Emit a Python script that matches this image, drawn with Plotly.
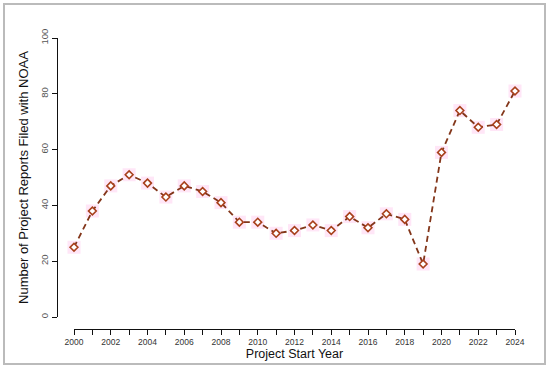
import plotly.graph_objects as go

years = list(range(2000, 2025))
reports = [25, 38, 47, 51, 48, 43, 47, 45, 41, 34, 34, 30, 31, 33, 31, 36, 32, 37, 35, 19, 59, 74, 68, 69, 81]
y_ticks = [0, 20, 40, 60, 80, 100]
x_tick_labels = [str(y) if y % 2 == 0 else "" for y in years]

FONT = "Liberation Sans, Arial, sans-serif"

fig = go.Figure()
# pink glow behind markers
fig.add_trace(go.Scatter(x=years, y=reports, mode="markers",
                         marker=dict(symbol="square", size=13, color="rgba(255,210,240,0.55)", line=dict(width=0)),
                         hoverinfo="skip", showlegend=False, cliponaxis=False))
fig.add_trace(go.Scatter(x=years, y=reports, mode="lines+markers",
                         line=dict(color="#83361A", width=1.8, dash="6px,4px"),
                         marker=dict(symbol="diamond", size=6, color="white",
                                     line=dict(color="#A8401C", width=1.6)),
                         showlegend=False, cliponaxis=False))

fig.update_layout(
    width=550, height=370,
    margin=dict(l=20, r=30, t=30, b=20),
    paper_bgcolor="white", plot_bgcolor="white",
    font=dict(family=FONT, color="#222"),
    xaxis=dict(domain=[0.108, 0.99], range=[2000, 2024], anchor="free", position=0.066,
               automargin=False,
               tickmode="array", tickvals=years, ticktext=x_tick_labels,
               ticks="outside", ticklen=5, tickwidth=1.3, tickcolor="#111",
               showline=True, linecolor="#111", linewidth=1.4, showgrid=False, zeroline=False,
               tickfont=dict(size=8.5, color="#333"),
               title=dict(text="Project Start Year", font=dict(size=12.5, color="#111"), standoff=2)),
    yaxis=dict(domain=[0.103, 0.975], range=[0, 100], anchor="free", position=0.074,
               automargin=False,
               tickmode="array", tickvals=y_ticks, ticktext=[str(v) for v in y_ticks],
               ticks="outside", ticklen=5, tickwidth=1.3, tickcolor="#111", tickangle=-90,
               showline=True, linecolor="#111", linewidth=1.4, showgrid=False, zeroline=False,
               tickfont=dict(size=9.5, color="#555"),
               title=dict(text="Number of Project Reports Filed with NOAA", font=dict(size=13, color="#111"), standoff=6)),
)

fig.add_shape(type="rect", xref="paper", yref="paper", x0=-0.032, x1=1.05, y0=-0.04375, y1=1.08125,
              line=dict(color="#bbbbbb", width=2), fillcolor="rgba(0,0,0,0)", layer="below")

fig.write_html("out.html", config={"displayModeBar": False},
               post_script="document.body.style.margin='0';")
